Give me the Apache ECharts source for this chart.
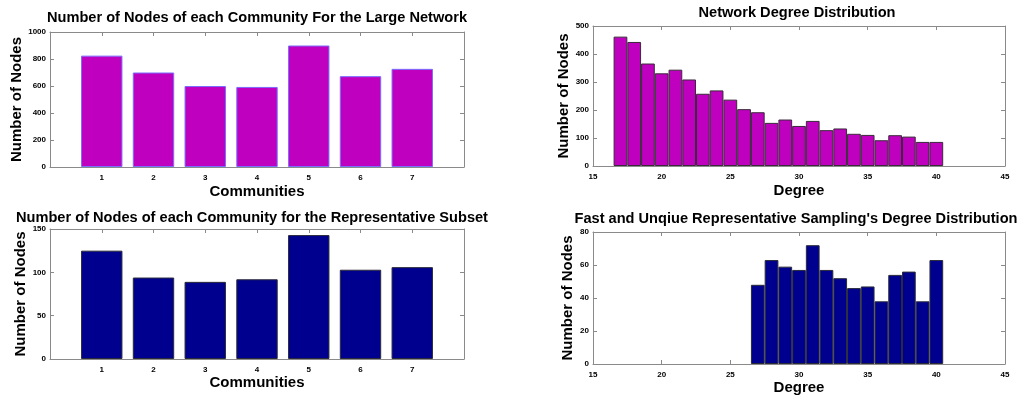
<!DOCTYPE html>
<html>
<head>
<meta charset="utf-8">
<script src="https://cdn.jsdelivr.net/npm/echarts@6/dist/echarts.min.js"></script>
<style>html,body{margin:0;padding:0;background:#fff}#c{width:1024px;height:401px}</style>
</head>
<body>
<div id="c"></div>
<script>
const communities = [1, 2, 3, 4, 5, 6, 7];
const largeNetworkCounts = [825, 700, 600, 593, 900, 673, 727];
const subsetCounts = [125, 94, 89, 92, 143, 103, 106];
const networkDegrees = [17, 18, 19, 20, 21, 22, 23, 24, 25, 26, 27, 28, 29, 30, 31, 32, 33, 34, 35, 36, 37, 38, 39, 40];
const networkDegreeCounts = [462, 443, 366, 331, 344, 309, 258, 270, 237, 203, 192, 154, 166, 143, 161, 128, 134, 115, 111, 92, 110, 105, 86, 86];
const sampleDegrees = [27, 28, 29, 30, 31, 32, 33, 34, 35, 36, 37, 38, 39, 40];
const sampleDegreeCounts = [48, 63, 59, 57, 72, 57, 52, 46, 47, 38, 54, 56, 38, 63];

const titles = [
  'Number of Nodes of each Community For the Large Network',
  'Number of Nodes of each Community for the Representative Subset',
  'Network Degree Distribution',
  "Fast and Unqiue Representative Sampling's Degree Distribution"
];

const FONT = '"Liberation Sans", Arial, sans-serif';
const FRAME = '#8a8a8a';

const grids = [
  {left: 50, top: 32, width: 414, height: 135},
  {left: 50, top: 229, width: 414, height: 130},
  {left: 593, top: 26, width: 412, height: 140},
  {left: 593, top: 232, width: 412, height: 132}
];

const xCfg = [
  {min: 0, max: 8, interval: 1, name: 'Communities', gap: 17, hideEnds: true},
  {min: 0, max: 8, interval: 1, name: 'Communities', gap: 16, hideEnds: true},
  {min: 15, max: 45, interval: 5, name: 'Degree', gap: 17, hideEnds: false},
  {min: 15, max: 45, interval: 5, name: 'Degree', gap: 16, hideEnds: false}
];
const yCfg = [
  {min: 0, max: 1000, interval: 200, gap: 24},
  {min: 0, max: 150, interval: 50, gap: 20},
  {min: 0, max: 500, interval: 100, gap: 22},
  {min: 0, max: 80, interval: 20, gap: 18}
];

const titleCfg = [
  {left: 257, top: 10},
  {left: 252, top: 210},
  {left: 797, top: 5},
  {left: 796, top: 211}
];

const xAxis = [], yAxis = [];
grids.forEach((g, i) => {
  const xc = xCfg[i], yc = yCfg[i];
  xAxis.push({
    type: 'value', gridIndex: i, min: xc.min, max: xc.max, interval: xc.interval,
    position: 'bottom',
    name: xc.name, nameLocation: 'middle', nameGap: xc.gap,
    nameTextStyle: {fontFamily: FONT, fontWeight: 'bold', fontSize: 15, color: '#000'},
    axisLine: {show: true, lineStyle: {color: FRAME, width: 1}},
    axisTick: {show: true, inside: true, length: 4, lineStyle: {color: FRAME}},
    axisLabel: {
      show: true, margin: 7, fontFamily: FONT, fontWeight: 'bold', fontSize: 8, color: '#000',
      formatter: v => (xc.hideEnds && (v === xc.min || v === xc.max)) ? '' : String(v)
    },
    splitLine: {show: false}
  });
  xAxis.push({
    type: 'value', gridIndex: i, min: xc.min, max: xc.max, interval: xc.interval,
    position: 'top',
    axisLine: {show: true, onZero: false, lineStyle: {color: FRAME, width: 1}},
    axisTick: {show: true, inside: true, length: 4, lineStyle: {color: FRAME}},
    axisLabel: {show: false},
    splitLine: {show: false}
  });
  yAxis.push({
    type: 'value', gridIndex: i, min: yc.min, max: yc.max, interval: yc.interval,
    position: 'left',
    name: 'Number of Nodes', nameLocation: 'middle', nameGap: yc.gap,
    nameTextStyle: {fontFamily: FONT, fontWeight: 'bold', fontSize: 15, color: '#000'},
    axisLine: {show: true, onZero: false, lineStyle: {color: FRAME, width: 1}},
    axisTick: {show: true, inside: true, length: 4, lineStyle: {color: FRAME}},
    axisLabel: {show: true, margin: 4, fontFamily: FONT, fontWeight: 'bold', fontSize: 8, color: '#000',
      formatter: v => String(v)},
    splitLine: {show: false}
  });
  yAxis.push({
    type: 'value', gridIndex: i, min: yc.min, max: yc.max, interval: yc.interval,
    position: 'right',
    axisLine: {show: true, onZero: false, lineStyle: {color: FRAME, width: 1}},
    axisTick: {show: true, inside: true, length: 4, lineStyle: {color: FRAME}},
    axisLabel: {show: false},
    splitLine: {show: false}
  });
});

function pairs(xs, ys) { return xs.map((x, k) => [x, ys[k]]); }

const series = [
  {type: 'bar', xAxisIndex: 0, yAxisIndex: 0, barWidth: '80%',
   data: pairs(communities, largeNetworkCounts),
   itemStyle: {color: '#BF00BF', borderColor: '#7a6cff', borderWidth: 1}},
  {type: 'bar', xAxisIndex: 2, yAxisIndex: 2, barWidth: '80%',
   data: pairs(communities, subsetCounts),
   itemStyle: {color: '#00008F', borderColor: '#2a2a3a', borderWidth: 1}},
  {type: 'bar', xAxisIndex: 4, yAxisIndex: 4, barWidth: '100%',
   data: pairs(networkDegrees, networkDegreeCounts),
   itemStyle: {color: '#BF00BF', borderColor: '#3a2a3a', borderWidth: 1}},
  {type: 'bar', xAxisIndex: 6, yAxisIndex: 6, barWidth: '100%',
   data: pairs(sampleDegrees, sampleDegreeCounts),
   itemStyle: {color: '#00008F', borderColor: '#2a2a3a', borderWidth: 1}}
];

const option = {
  backgroundColor: '#fff',
  animation: false,
  title: titles.map((t, i) => ({
    text: t, left: titleCfg[i].left, top: titleCfg[i].top, textAlign: 'center', padding: 0,
    textStyle: {fontFamily: FONT, fontWeight: 'bold', fontSize: 14.6, color: '#000'}
  })),
  grid: grids.map(g => Object.assign({containLabel: false}, g)),
  xAxis, yAxis, series
};

const chart = echarts.init(document.getElementById('c'), null, {renderer: 'canvas'});
chart.setOption(option);
</script>
</body>
</html>
